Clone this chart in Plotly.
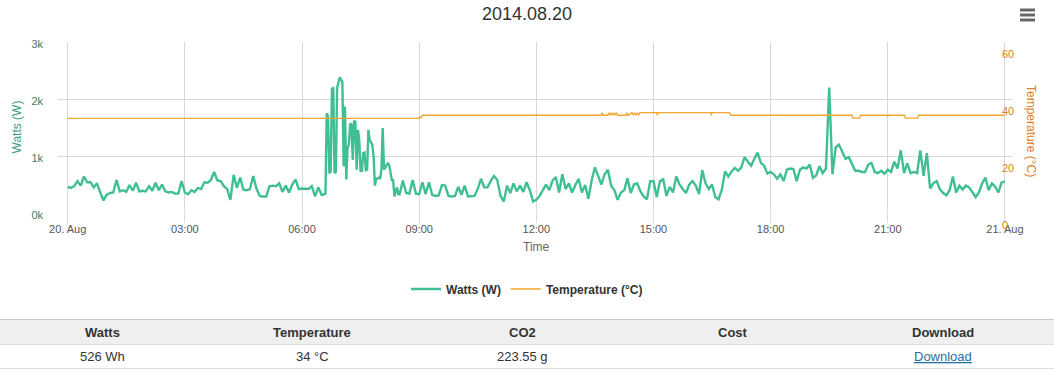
import pandas as pd
import plotly.graph_objects as go

W, H = 1054, 370
DAY = "2014-08-20"

# ---------------- data ----------------
# Watts, 00:00 - 06:25, one value every 5 minutes
watts_night = [
    460, 440, 470, 560, 480, 640, 540, 540, 450, 520, 360, 220,
    320, 350, 360, 580, 380, 400, 370, 490, 390, 530, 380, 390,
    380, 470, 390, 530, 400, 500, 380, 360, 370, 340, 340, 560,
    360, 330, 400, 370, 440, 420, 540, 530, 580, 720, 570, 560,
    470, 420, 230, 670, 440, 620, 410, 400, 420, 650, 430, 300,
    290, 290, 470, 480, 470, 520, 370, 480, 360, 500, 590, 420,
    430, 420, 420, 470, 290, 450,
]
# Watts, 06:30 - 08:28, one value every 2 minutes
watts_peak = [
    320, 320, 330, 340, 1750, 1700, 700, 720, 2180, 2190,
    700, 720, 2200, 2280, 2380, 2340, 2300, 820, 1870, 590,
    1150, 1200, 1570, 1550, 930, 1620, 1600, 760, 1460, 1280,
    740, 740, 1050, 1060, 750, 760, 1460, 1280, 1250, 1200,
    1000, 480, 600, 600, 620, 600, 760, 1490, 760, 800,
    850, 880, 840, 680, 580, 580, 290, 380, 450, 330,
]
# Watts, 08:30 - 17:55, one value every 5 minutes
watts_day = [
    330, 570, 350, 340, 580, 340,
    330, 540, 330, 540, 320, 300, 310, 490, 480, 300, 290, 300,
    460, 320, 480, 290, 290, 300, 420, 600, 450, 450, 560, 650,
    580, 300, 200, 480, 350, 520, 380, 480, 370, 540, 400, 200,
    230, 300, 400, 500, 400, 570, 630, 360, 680, 420, 520, 360,
    490, 600, 360, 490, 250, 570, 800, 650, 500, 680, 760, 480,
    400, 230, 360, 400, 610, 350, 500, 520, 380, 290, 240, 560,
    560, 280, 560, 590, 300, 460, 360, 640, 500, 420, 350, 500,
    560, 480, 330, 750, 520, 420, 500, 280, 240, 410, 730, 640,
    730, 790, 740, 800, 980, 900, 830, 950, 1060, 880, 830, 690,
]
# Watts, 18:00 - 24:00, one value every 5 minutes
watts_evening = [
    720, 680, 600, 680, 560, 760, 780, 770, 560, 760, 800, 780,
    850, 620, 660, 820, 700, 780, 2200, 680, 1150, 1200, 1080, 950,
    980, 850, 740, 740, 720, 720, 850, 880, 720, 700, 740, 690,
    760, 720, 900, 780, 1100, 700, 870, 700, 720, 700, 1100, 650,
    1050, 430, 520, 560, 420, 350, 310, 400, 640, 360, 480, 410,
    480, 450, 360, 280, 360, 520, 620, 400, 520, 460, 360, 540, 550,
]

# Temperature (°C) readings
temp_times = [
    "00:00", "09:00", "09:01", "09:03", "09:05",
    "13:40", "13:41", "13:43",
    "13:50", "13:51", "13:53", "13:55", "13:57", "13:59", "14:01", "14:03", "14:05",
    "14:18", "14:19", "14:21", "14:27", "14:29", "14:31", "14:33", "14:35", "14:37", "14:39",
    "15:05", "15:06", "15:07",
    "16:28", "16:29", "16:30",
    "16:57", "16:59",
    "20:05", "20:06", "20:17", "20:18",
    "20:59", "21:00", "21:01",
    "21:26", "21:27", "21:46", "21:47",
    "24:00",
]
temp_values = [
    33.2, 33.2, 33.7, 33.4, 34.3,
    34.3, 35.2, 34.3,
    34.3, 35.2, 34.3, 35.2, 34.3, 35.2, 34.3, 35.2, 34.3,
    34.3, 35.2, 34.3, 35.2, 34.3, 35.2, 34.3, 35.2, 34.3, 35.2,
    35.2, 34.3, 35.2,
    35.2, 34.3, 35.2,
    35.2, 34.3,
    34.3, 33.3, 33.3, 34.3,
    34.3, 33.8, 34.3,
    34.3, 33.3, 33.3, 34.3,
    34.3,
]

x_tick_hours = [0, 3, 6, 9, 12, 15, 18, 21, 24]
x_tick_labels = ["20. Aug", "03:00", "06:00", "09:00", "12:00", "15:00", "18:00", "21:00", "21. Aug"]
watts_ticks = [0, 1000, 2000, 3000]
watts_tick_labels = ["0k", "1k", "2k", "3k"]
temp_ticks = [0, 20, 40, 60]

table_headers = ["Watts", "Temperature", "CO2", "Cost", "Download"]
table_values = ["526 Wh", "34 °C", "223.55 g", "", "Download"]

# ---------------- helpers ----------------
base = pd.Timestamp(DAY)


def at(hhmm):
    h, m = hhmm.split(":")
    return base + pd.Timedelta(hours=int(h), minutes=int(m))


t_watts = (
    list(pd.date_range(at("00:00"), periods=len(watts_night), freq="5min"))
    + list(pd.date_range(at("06:30"), periods=len(watts_peak), freq="2min"))
    + list(pd.date_range(at("08:30"), periods=len(watts_day), freq="5min"))
    + list(pd.date_range(at("18:00"), periods=len(watts_evening), freq="5min"))
)
watts = watts_night + watts_peak + watts_day + watts_evening
t_temp = [at(t) for t in temp_times]
tickvals_x = [base + pd.Timedelta(hours=h) for h in x_tick_hours]


def px(x):
    return x / W


def py(y):
    return 1 - y / H


PL, PR, PT, PB = 58, 1013, 42, 213  # plot area in pixels

FONT = "Liberation Sans, Arial, sans-serif"
TEAL = "#3fbf93"
ORANGE = "#f2a631"
GRID = "#d9d9d9"

fig = go.Figure()
fig.add_trace(go.Scatter(
    x=t_watts, y=watts, name="Watts (W)", mode="lines",
    line=dict(color=TEAL, width=2.4), yaxis="y",
))
fig.add_trace(go.Scatter(
    x=t_temp, y=temp_values, name="Temperature (°C)", mode="lines",
    line=dict(color=ORANGE, width=1.3), yaxis="y2",
))

x_start = base - pd.Timedelta(minutes=14.9)
x_end = base + pd.Timedelta(hours=24, minutes=12.4)

annotations = [
    dict(text="Watts (W)", x=px(17), y=py(127.5), textangle=-90,
         font=dict(size=12, color="#3aa07f")),
    dict(text="Temperature (°C)", x=px(1031), y=py(131), textangle=90,
         font=dict(size=12, color="#e0801f")),
    dict(text="Time", x=px(536), y=py(247), font=dict(size=12, color="#666666")),
]

shapes = []
# hamburger menu icon
for yy in (10, 15, 20):
    shapes.append(dict(type="line", xref="paper", yref="paper",
                       x0=px(1020), x1=px(1035), y0=py(yy), y1=py(yy),
                       line=dict(color="#666666", width=3)))

# table
shapes.append(dict(type="rect", xref="paper", yref="paper",
                   x0=0, x1=1, y0=py(344.5), y1=py(319.5),
                   fillcolor="#efefef", line=dict(width=0), layer="below"))
for yy, col in ((319.5, "#c8c8c8"), (344.5, "#dddddd"), (368.5, "#dddddd")):
    shapes.append(dict(type="line", xref="paper", yref="paper",
                       x0=0, x1=1, y0=py(yy), y1=py(yy),
                       line=dict(color=col, width=1)))
for i, (hdr, val) in enumerate(zip(table_headers, table_values)):
    cx = 102 + 210.25 * i
    annotations.append(dict(text=f"<b>{hdr}</b>", x=px(cx), y=py(332),
                            font=dict(size=13, color="#333333")))
    if val:
        if hdr == "Download":
            annotations.append(dict(text=f"<u>{val}</u>", x=px(cx), y=py(356),
                                    font=dict(size=13, color="#2a6ea6")))
        else:
            annotations.append(dict(text=val, x=px(cx), y=py(356),
                                    font=dict(size=13, color="#333333")))

for a in annotations:
    a.update(xref="paper", yref="paper", showarrow=False,
             xanchor="center", yanchor="middle")

fig.update_layout(
    template="none",
    width=W, height=H, autosize=False,
    margin=dict(l=0, r=0, t=0, b=0, pad=0, autoexpand=False),
    paper_bgcolor="white", plot_bgcolor="white",
    font=dict(family=FONT, color="#333333"),
    title=dict(text="2014.08.20", x=0.5, xanchor="center", y=py(14), yanchor="middle",
               xref="paper", yref="paper", font=dict(size=18, color="#333333")),
    xaxis=dict(
        domain=[px(PL), px(PR)], type="date", range=[x_start, x_end],
        tickvals=tickvals_x, ticktext=x_tick_labels,
        showgrid=True, gridcolor=GRID, gridwidth=1,
        ticks="outside", ticklen=9, tickcolor=GRID, tickwidth=1,
        showline=False, zeroline=False, automargin=False,
        ticklabelstandoff=-3,
        tickfont=dict(size=11, color="#555555"),
    ),
    yaxis=dict(
        domain=[py(PB), py(PT)], range=[0, 3000],
        tickvals=watts_ticks, ticktext=watts_tick_labels,
        showgrid=True, gridcolor=GRID, gridwidth=1,
        zeroline=False, showline=False, ticks="", automargin=False,
        ticklabelstandoff=14, ticklabelshift=2,
        tickfont=dict(size=11, color="#3b7a68"),
    ),
    yaxis2=dict(
        overlaying="y", side="right", range=[0, 60],
        tickvals=temp_ticks, showgrid=False, zeroline=False, showline=False,
        ticks="", ticklabelposition="outside", ticklabelstandoff=-12,
        ticklabelshift=12, automargin=False,
        tickfont=dict(size=11, color="#e0801f"),
    ),
    legend=dict(
        orientation="h", x=0.5, xanchor="center", y=py(289), yanchor="middle",
        font=dict(size=12, color="#333333", weight="bold"),
        bgcolor="rgba(0,0,0,0)",
    ),
    annotations=annotations,
    shapes=shapes,
)

fig.write_html(
    "out.html",
    config={"displayModeBar": False},
    post_script="document.body.style.margin='0px';document.body.style.overflow='hidden';",
)
